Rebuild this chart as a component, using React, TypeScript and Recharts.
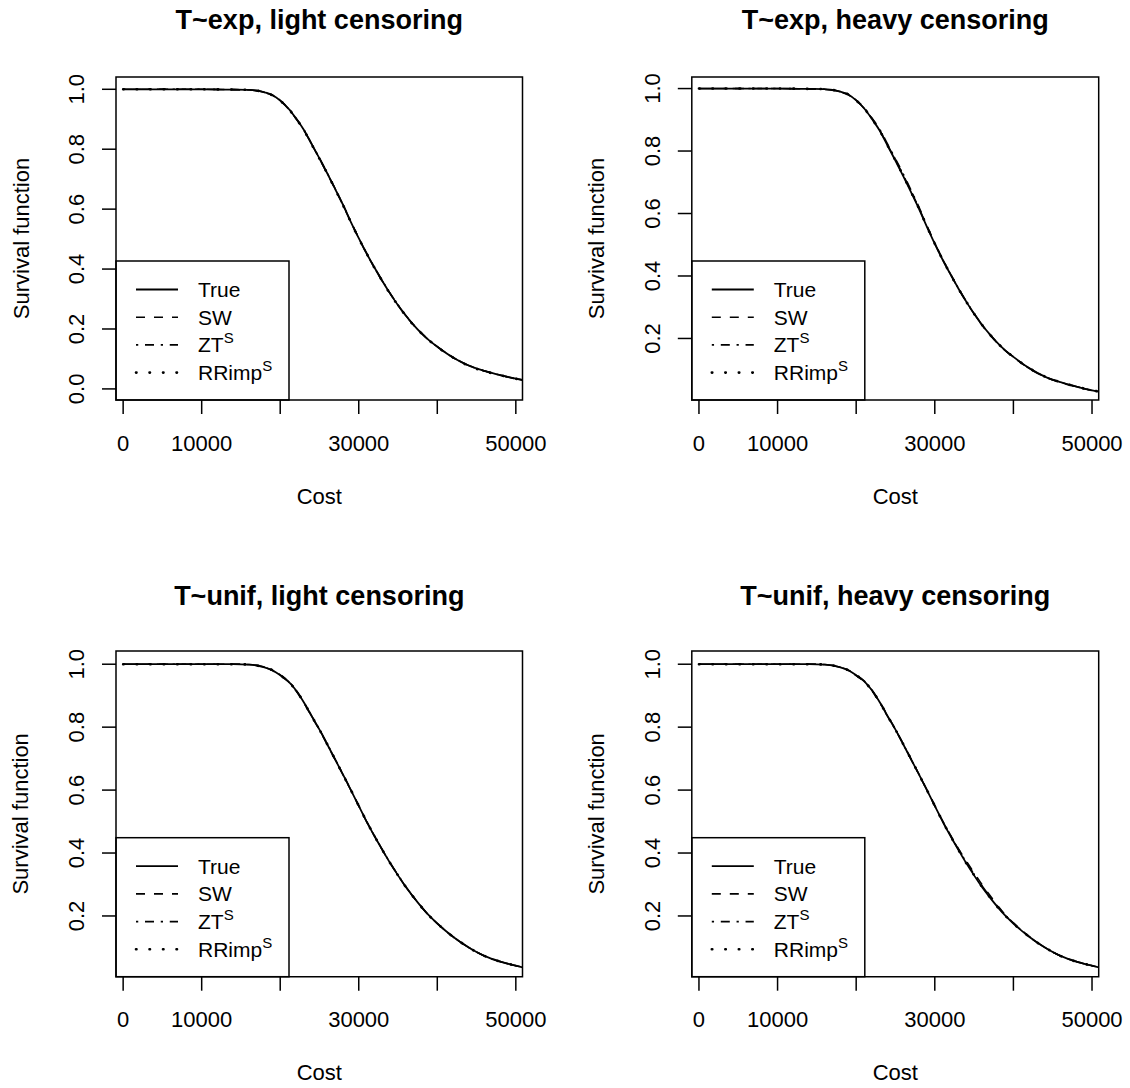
import React from 'react';
import { LineChart, Line, XAxis, YAxis, ReferenceArea } from 'recharts';

// cost grid shared by every curve
const cost = [
  0, 5000, 10000, 14000, 16000, 18000, 19000, 20000, 21000, 22000, 23000, 24000,
  25000, 26000, 27000, 28000, 29000, 30000, 31000, 32000, 33000, 34000, 35000,
  36000, 37000, 38000, 39000, 40000, 42000, 44000, 46000, 48000, 50000, 50850
];

// true survival of cost, T ~ exp
const expTrue = [
  1, 1, 1, 0.999, 0.998, 0.99, 0.981, 0.962, 0.937, 0.903, 0.865, 0.817,
  0.769, 0.719, 0.667, 0.614, 0.557, 0.503, 0.452, 0.405, 0.36, 0.318, 0.279,
  0.244, 0.213, 0.185, 0.161, 0.141, 0.105, 0.078, 0.06, 0.046, 0.034, 0.03
];
// true survival of cost, T ~ unif
const unifTrue = [
  1, 1, 1, 1, 0.999, 0.99, 0.981, 0.965, 0.946, 0.917, 0.879, 0.835,
  0.792, 0.745, 0.697, 0.649, 0.6, 0.55, 0.5, 0.454, 0.41, 0.368, 0.329,
  0.292, 0.259, 0.228, 0.2, 0.176, 0.134, 0.1, 0.073, 0.055, 0.042, 0.037
];

const expLightSW = [
  1, 1, 1, 0.999, 0.998, 0.989, 0.98, 0.961, 0.936, 0.902, 0.864, 0.817,
  0.768, 0.718, 0.667, 0.613, 0.557, 0.503, 0.451, 0.404, 0.36, 0.318, 0.279,
  0.244, 0.213, 0.185, 0.161, 0.141, 0.105, 0.078, 0.06, 0.046, 0.034, 0.03
];
const expLightZT = [
  1, 1, 1, 0.999, 0.998, 0.99, 0.981, 0.963, 0.938, 0.904, 0.866, 0.818,
  0.77, 0.72, 0.668, 0.615, 0.558, 0.504, 0.453, 0.405, 0.361, 0.319, 0.28,
  0.245, 0.213, 0.186, 0.162, 0.141, 0.106, 0.078, 0.06, 0.046, 0.034, 0.03
];
const expLightRR = [
  1, 1, 1, 0.999, 0.998, 0.99, 0.98, 0.962, 0.937, 0.903, 0.864, 0.816,
  0.768, 0.719, 0.666, 0.613, 0.556, 0.502, 0.452, 0.404, 0.36, 0.317, 0.279,
  0.244, 0.212, 0.185, 0.161, 0.14, 0.105, 0.077, 0.059, 0.046, 0.034, 0.03
];

const expHeavySW = [
  1, 1, 1, 0.999, 0.997, 0.989, 0.98, 0.961, 0.937, 0.904, 0.866, 0.819,
  0.771, 0.722, 0.67, 0.617, 0.559, 0.505, 0.453, 0.406, 0.36, 0.318, 0.279,
  0.243, 0.212, 0.184, 0.16, 0.14, 0.104, 0.077, 0.059, 0.045, 0.033, 0.029
];
const expHeavyZT = [
  1, 1, 1, 0.999, 0.998, 0.99, 0.982, 0.963, 0.939, 0.906, 0.869, 0.822,
  0.775, 0.726, 0.674, 0.62, 0.561, 0.506, 0.454, 0.406, 0.361, 0.319, 0.28,
  0.244, 0.213, 0.185, 0.161, 0.141, 0.105, 0.078, 0.06, 0.046, 0.034, 0.03
];
const expHeavyRR = [
  1, 1, 1, 0.999, 0.998, 0.99, 0.981, 0.962, 0.937, 0.903, 0.865, 0.818,
  0.77, 0.72, 0.668, 0.615, 0.558, 0.503, 0.452, 0.405, 0.36, 0.318, 0.279,
  0.244, 0.213, 0.185, 0.161, 0.141, 0.105, 0.078, 0.06, 0.046, 0.034, 0.03
];

const unifLightSW = [
  1, 1, 1, 1, 0.999, 0.99, 0.98, 0.964, 0.945, 0.916, 0.878, 0.834,
  0.791, 0.744, 0.696, 0.648, 0.6, 0.55, 0.5, 0.454, 0.41, 0.368, 0.329,
  0.292, 0.259, 0.228, 0.2, 0.176, 0.134, 0.1, 0.073, 0.055, 0.042, 0.037
];
const unifLightZT = [
  1, 1, 1, 1, 0.999, 0.991, 0.982, 0.966, 0.947, 0.918, 0.88, 0.836,
  0.793, 0.746, 0.698, 0.65, 0.601, 0.551, 0.501, 0.455, 0.411, 0.369, 0.33,
  0.293, 0.26, 0.229, 0.2, 0.176, 0.134, 0.1, 0.073, 0.055, 0.042, 0.037
];
const unifLightRR = [
  1, 1, 1, 1, 0.999, 0.99, 0.981, 0.965, 0.946, 0.917, 0.879, 0.835,
  0.792, 0.745, 0.697, 0.649, 0.6, 0.55, 0.5, 0.454, 0.41, 0.368, 0.329,
  0.292, 0.259, 0.228, 0.2, 0.176, 0.134, 0.1, 0.073, 0.055, 0.042, 0.037
];

const unifHeavySW = [
  1, 1, 1, 1, 0.999, 0.99, 0.981, 0.966, 0.947, 0.918, 0.88, 0.836,
  0.793, 0.746, 0.698, 0.65, 0.601, 0.551, 0.502, 0.457, 0.414, 0.375, 0.337,
  0.3, 0.266, 0.233, 0.203, 0.178, 0.135, 0.1, 0.073, 0.055, 0.042, 0.037
];
const unifHeavyZT = [
  1, 1, 1, 1, 0.999, 0.99, 0.98, 0.964, 0.945, 0.916, 0.878, 0.834,
  0.791, 0.745, 0.697, 0.649, 0.6, 0.55, 0.501, 0.455, 0.412, 0.371, 0.333,
  0.296, 0.262, 0.23, 0.201, 0.177, 0.134, 0.1, 0.073, 0.055, 0.042, 0.037
];
const unifHeavyRR = [
  1, 1, 1, 1, 0.999, 0.99, 0.981, 0.965, 0.946, 0.917, 0.879, 0.835,
  0.792, 0.745, 0.697, 0.649, 0.6, 0.55, 0.5, 0.454, 0.41, 0.368, 0.33,
  0.293, 0.26, 0.228, 0.2, 0.176, 0.134, 0.1, 0.073, 0.055, 0.042, 0.037
];

const titles = [
  'T~exp, light censoring',
  'T~exp, heavy censoring',
  'T~unif, light censoring',
  'T~unif, heavy censoring'
];

const xTicks = [0, 10000, 20000, 30000, 40000, 50000];
const xLabelled = [0, 10000, 30000, 50000];
const yTicksFull = [0, 0.2, 0.4, 0.6, 0.8, 1];
const yTicksUpper = [0.2, 0.4, 0.6, 0.8, 1];
const xDomain: [number, number] = [-910, 50850];

const FONT = '"Liberation Sans", Arial, Helvetica, sans-serif';
const W = 565;
const H = 544;
const FS = 22;
const LEG_FS = 21;

const series = [
  { key: 'trueS', label: 'True', sup: '', dash: undefined, width: 1.8, cap: 'butt' },
  { key: 'sw', label: 'SW', sup: '', dash: '9 9', width: 1.6, cap: 'butt' },
  { key: 'zt', label: 'ZT', sup: 'S', dash: '2.25 6.75 9 6.75', width: 1.6, cap: 'butt' },
  { key: 'rr', label: 'RRimp', sup: 'S', dash: '0.5 13', width: 2.6, cap: 'round' }
];

const build = (t: number[], s: number[], z: number[], r: number[]) =>
  cost.map((c, i) => ({ cost: c, trueS: t[i], sw: s[i], zt: z[i], rr: r[i] }));

const panels = [
  {
    title: titles[0], rows: build(expTrue, expLightSW, expLightZT, expLightRR),
    yDomain: [-0.037, 1.041] as [number, number], yTicks: yTicksFull,
    px: 0, py: 0, left: 116, right: 522.5, top: 77, bottom: 400, titleY: 19.5
  },
  {
    title: titles[1], rows: build(expTrue, expHeavySW, expHeavyZT, expHeavyRR),
    yDomain: [0.003, 1.037] as [number, number], yTicks: yTicksUpper,
    px: 565, py: 0, left: 126.8, right: 533.7, top: 77, bottom: 400, titleY: 19.5
  },
  {
    title: titles[2], rows: build(unifTrue, unifLightSW, unifLightZT, unifLightRR),
    yDomain: [0.007, 1.042] as [number, number], yTicks: yTicksUpper,
    px: 0, py: 544, left: 116, right: 522.5, top: 107, bottom: 432.7, titleY: 52
  },
  {
    title: titles[3], rows: build(unifTrue, unifHeavySW, unifHeavyZT, unifHeavyRR),
    yDomain: [0.007, 1.042] as [number, number], yTicks: yTicksUpper,
    px: 565, py: 544, left: 126.8, right: 533.7, top: 107, bottom: 432.7, titleY: 52
  }
];

const XTick = (props: any) => {
  const { x, y, payload } = props;
  if (!xLabelled.includes(payload.value)) return <g />;
  return (
    <text x={x} y={y + 29} textAnchor="middle" dominantBaseline="central"
      fontSize={FS} fontFamily={FONT} fill="#000">
      {payload.value}
    </text>
  );
};

const YTick = (props: any) => {
  const { x, y, payload } = props;
  const cx = x - 25;
  return (
    <text x={cx} y={y} transform={`rotate(-90 ${cx} ${y})`} textAnchor="middle"
      dominantBaseline="central" fontSize={FS} fontFamily={FONT} fill="#000">
      {Number(payload.value).toFixed(1)}
    </text>
  );
};

const Panel: React.FC<{ p: typeof panels[number] }> = ({ p }) => {
  const legH = 139;
  const legW = 173;
  const legTop = p.bottom - legH;
  return (
    <div style={{ position: 'absolute', left: p.px, top: p.py, width: W, height: H }}>
      <LineChart width={W} height={H} data={p.rows}
        margin={{ top: p.top, right: W - p.right, bottom: 0, left: 0 }}>
        <XAxis type="number" dataKey="cost" domain={xDomain} ticks={xTicks} interval={0}
          allowDataOverflow axisLine={false} tickSize={14} tickMargin={0}
          tickLine={{ stroke: '#000', strokeWidth: 1.5 }} tick={XTick} height={H - p.bottom} />
        <YAxis type="number" domain={p.yDomain} ticks={p.yTicks} interval={0}
          allowDataOverflow axisLine={false} tickSize={14} tickMargin={0}
          tickLine={{ stroke: '#000', strokeWidth: 1.5 }} tick={YTick} width={p.left} />
        <ReferenceArea x1={xDomain[0]} x2={xDomain[1]} y1={p.yDomain[0]} y2={p.yDomain[1]}
          fill="none" stroke="#000" strokeWidth={1.5} ifOverflow="visible" />
        {series.map(s => (
          <Line key={s.key} type="monotone" dataKey={s.key} stroke="#000" strokeWidth={s.width}
            strokeDasharray={s.dash} strokeLinecap={s.cap as any} dot={false}
            activeDot={false} isAnimationActive={false} />
        ))}
      </LineChart>
      <svg width={W} height={H} style={{ position: 'absolute', left: 0, top: 0, pointerEvents: 'none' }}
        fontFamily={FONT}>
        <text x={(p.left + p.right) / 2} y={p.titleY} textAnchor="middle" dominantBaseline="central"
          fontSize={27} fontWeight="bold">{p.title}</text>
        <text x={(p.left + p.right) / 2} y={p.bottom + 96} textAnchor="middle"
          dominantBaseline="central" fontSize={FS}>Cost</text>
        <text x={p.left - 95} y={(p.top + p.bottom) / 2} textAnchor="middle" dominantBaseline="central"
          fontSize={FS} transform={`rotate(-90 ${p.left - 95} ${(p.top + p.bottom) / 2})`}>
          Survival function
        </text>
        <rect x={p.left} y={legTop} width={legW} height={legH} fill="none" stroke="#000" strokeWidth={1.5} />
        {series.map((s, i) => {
          const ry = legTop + 28.5 + i * 27.7;
          return (
            <g key={s.key}>
              <line x1={p.left + 20} x2={p.left + 62} y1={ry} y2={ry} stroke="#000"
                strokeWidth={s.width} strokeDasharray={s.dash} strokeLinecap={s.cap as any} />
              <text x={p.left + 82} y={ry + 7.5} fontSize={LEG_FS}>
                {s.label}
                {s.sup && <tspan dy={-9} fontSize={15}>{s.sup}</tspan>}
              </text>
            </g>
          );
        })}
      </svg>
    </div>
  );
};

export default function App() {
  return (
    <div style={{ position: 'absolute', left: 0, top: 0, width: 1130, height: 1088, background: '#fff' }}>
      {panels.map((p, i) => <Panel key={i} p={p} />)}
    </div>
  );
}
